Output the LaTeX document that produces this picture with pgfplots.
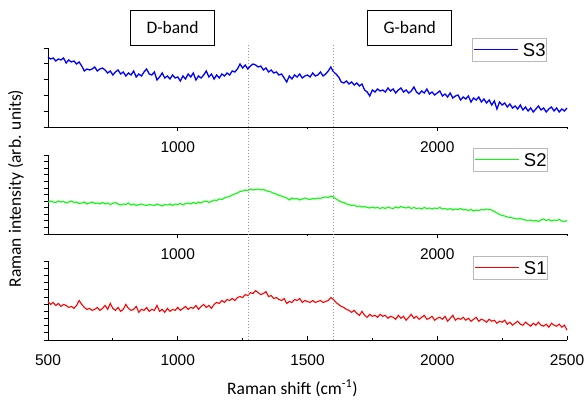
\documentclass[border=0pt]{standalone}
\usepackage{fontspec}
\setmainfont{Carlito}
\newfontfamily\arialf{Liberation Sans}
\usepackage{pgfplots}
\usepackage{pgfplotstable}
\pgfplotsset{compat=1.18}

% S3 (top), S2 (middle), S1 (bottom); intensities in arbitrary units
\pgfplotstableread{
x y
500 70
510 68
520 69
530 66
540 68
550 67
560 69
570 64
580 67
590 65
600 66
610 63
620 65
630 61
640 56
650 58
660 57
670 58
680 60
690 56
700 58
710 59
720 57
730 54
740 56
750 52
760 55
770 57
780 53
790 55
800 51
810 54
820 52
830 56
840 50
850 53
860 51
870 55
880 58
890 53
900 52
910 55
920 47
930 50
940 54
950 49
960 51
970 48
980 52
990 49
1000 50
1010 46
1020 51
1030 48
1040 53
1050 50
1060 54
1070 47
1080 51
1090 49
1100 52
1110 56
1120 50
1130 53
1140 48
1150 52
1160 49
1170 53
1180 51
1190 54
1200 52
1210 56
1220 55
1230 58
1240 63
1250 59
1260 62
1270 58
1280 61
1290 63
1300 62
1310 60
1320 61
1330 57
1340 59
1350 55
1360 57
1370 54
1380 55
1390 52
1400 53
1410 49
1420 45
1430 51
1440 48
1450 52
1460 50
1470 53
1480 49
1490 51
1500 52
1510 50
1520 54
1530 51
1540 52
1550 55
1560 51
1570 53
1580 56
1590 60
1600 55
1610 53
1620 50
1630 45
1640 44
1650 46
1660 43
1670 45
1680 42
1690 44
1700 41
1710 43
1720 37
1730 35
1740 31
1750 37
1760 35
1770 38
1780 36
1790 37
1800 35
1810 39
1820 36
1830 38
1840 34
1850 37
1860 39
1870 35
1880 37
1890 34
1900 36
1910 40
1920 35
1930 33
1940 36
1950 34
1960 38
1970 33
1980 35
1990 32
2000 34
2010 36
2020 31
2030 33
2040 30
2050 34
2060 29
2070 31
2080 32
2090 27
2100 30
2110 28
2120 31
2130 25
2140 29
2150 27
2160 30
2170 25
2180 28
2190 24
2200 27
2210 22
2220 26
2230 18
2240 25
2250 22
2260 24
2270 20
2280 23
2290 19
2300 21
2310 18
2320 22
2330 17
2340 20
2350 16
2360 19
2370 15
2380 18
2390 21
2400 17
2410 19
2420 15
2430 18
2440 20
2450 16
2460 19
2470 15
2480 18
2490 16
2500 19
}\sthree

\pgfplotstableread{
x y
500 32
510 33
520 32
530 31.5
540 33
550 32
560 32.5
570 31
580 32
590 33
600 31.5
610 32
620 30.5
630 31
640 32
650 30
660 31
670 32
680 30.5
690 31
700 30
710 31.5
720 30
730 31
740 29.5
750 30.5
760 31.5
770 30
780 29
790 30
800 29.5
810 31
820 29
830 30
840 28.5
850 29.5
860 30
870 29
880 28.5
890 29.5
900 29
910 28.5
920 30
930 29
940 28
950 29.5
960 29
970 30
980 28.5
990 30
1000 29.5
1010 30.5
1020 29
1030 30.5
1040 31
1050 30
1060 31.5
1070 30.5
1080 32
1090 31
1100 32.5
1110 33
1120 31.5
1130 32.5
1140 34
1150 33.5
1160 35
1170 34.5
1180 36
1190 37
1200 37.5
1210 39
1220 40
1230 41
1240 42.5
1250 43
1260 44
1270 43.5
1280 45
1290 44
1300 44.5
1310 45
1320 44
1330 44.5
1340 43.5
1350 42.5
1360 42
1370 40.5
1380 40
1390 38.5
1400 38
1410 37
1420 36
1430 34
1440 36
1450 35
1460 35.5
1470 34
1480 35
1490 36
1500 35
1510 34.5
1520 35.5
1530 35
1540 36
1550 35.5
1560 36.5
1570 37
1580 36.5
1590 38
1600 37
1610 35
1620 33.5
1630 32
1640 31.5
1650 30
1660 29.5
1670 28.5
1680 29
1690 27.5
1700 28
1710 27
1720 27.5
1730 26.5
1740 26
1750 27
1760 26
1770 26.5
1780 25.5
1790 26.5
1800 25.5
1810 27
1820 26
1830 25.5
1840 27
1850 26
1860 27.5
1870 26.5
1880 26
1890 27
1900 25.5
1910 26.5
1920 25.5
1930 26
1940 25
1950 26.5
1960 25.5
1970 26
1980 25
1990 26
2000 25.5
2010 26.5
2020 25
2030 25.5
2040 24.5
2050 25.5
2060 24
2070 25
2080 24.5
2090 25.5
2100 24
2110 24.5
2120 23.5
2130 24.5
2140 23
2150 24
2160 23.5
2170 24.5
2180 24
2190 25
2200 24.5
2210 24
2220 22.5
2230 21
2240 19.5
2250 18.5
2260 18
2270 17
2280 16.5
2290 16
2300 15.5
2310 15
2320 15.5
2330 14.5
2340 14
2350 13.5
2360 14
2370 13
2380 13.5
2390 12.5
2400 14
2410 15
2420 13.5
2430 14.5
2440 13
2450 14
2460 13.5
2470 14.5
2480 13
2490 12.5
2500 13.5
}\stwo

\pgfplotstableread{
x y
500 39
510 36
520 38
530 35
540 37
550 34
560 36
570 35
580 33
590 34
600 32
610 35
620 40
630 36
640 33
650 31
660 32
670 30
680 31
690 33
700 30
710 32
720 35
730 31
740 37
750 32
760 30
770 33
780 29
790 31
800 36
810 32
820 30
830 31
840 34
850 28
860 31
870 30
880 33
890 29
900 31
910 30
920 35
930 29
940 31
950 28
960 32
970 29
980 31
990 30
1000 33
1010 30
1020 32
1030 34
1040 31
1050 33
1060 32
1070 35
1080 31
1090 34
1100 36
1110 33
1120 35
1130 32
1140 36
1150 38
1160 37
1170 40
1180 38
1190 41
1200 40
1210 42
1220 40
1230 43
1240 44
1250 43
1260 46
1270 45
1280 48
1290 47
1300 50
1310 48
1320 46
1330 47
1340 49
1350 44
1360 45
1370 42
1380 43
1390 41
1400 40
1410 42
1420 37
1430 39
1440 38
1450 41
1460 40
1470 42
1480 38
1490 40
1500 39
1510 38
1520 40
1530 38
1540 39
1550 40
1560 38
1570 39
1580 40
1590 43
1600 41
1610 38
1620 36
1630 34
1640 33
1650 31
1660 30
1670 28
1680 30
1690 27
1700 25
1710 29
1720 25
1730 23
1740 26
1750 24
1760 25
1770 23
1780 26
1790 24
1800 25
1810 22
1820 24
1830 23
1840 21
1850 25
1860 22
1870 24
1880 20
1890 23
1900 26
1910 22
1920 24
1930 21
1940 23
1950 25
1960 21
1970 22
1980 24
1990 20
2000 22
2010 23
2020 21
2030 24
2040 19
2050 22
2060 25
2070 20
2080 22
2090 21
2100 23
2110 20
2120 22
2130 19
2140 21
2150 23
2160 19
2170 21
2180 20
2190 18
2200 21
2210 19
2220 20
2230 17
2240 19
2250 18
2260 20
2270 16
2280 18
2290 15
2300 17
2310 19
2320 16
2330 15
2340 18
2350 16
2360 14
2370 17
2380 15
2390 18
2400 15
2410 14
2420 16
2430 13
2440 17
2450 15
2460 14
2470 16
2480 13
2490 15
2500 10
}\sone

\pgfplotsset{
  panel/.style={
    scale only axis, width=519pt, height=79pt,
    xmin=500, xmax=2500, ymin=0, ymax=79,
    axis x line=bottom, axis y line=left,
    axis line style={-, line width=0.8pt},
    tick style={black, line width=0.8pt},
    major tick length=4pt, minor tick length=2.5pt,
    yticklabels={}, ytick align=outside,
    xticklabel style={font=\arialf\fontsize{15.5}{17}\selectfont, yshift=-7pt},
    /pgf/number format/assume math mode=true,
    /pgf/number format/1000 sep={},
    clip=false,
  },
}
% legend box: #1 top-right corner, #2 colour, #3 name
\newcommand\legbox[3]{%
  \draw[gray!55, line width=0.6pt] (#1) rectangle ++(-74pt,-23pt);
  \fill[#2] ([shift={(-73pt,-12.4pt)}]#1) rectangle ++(44pt,1.8pt);
  \node[anchor=base west, inner sep=0pt, font=\arialf\fontsize{18.5}{19}\selectfont]
    at ([shift={(-24pt,-18.2pt)}]#1) {#3};}

\begin{document}
\begin{tikzpicture}
\path[use as bounding box] (0pt,0pt) rectangle (587pt,402pt);

% top: S3
\begin{axis}[panel, at={(48pt,275pt)}, anchor=south west,
    xtick={1000,2000}, minor xtick={1500,2500}, xtick align=outside,
    ytick={0,16,32,48,64,79}]
  \addplot[blue, line width=1.3pt] table[x=x,y=y] {\sthree};
  \node[draw, line width=0.8pt, minimum width=84pt, minimum height=35pt,
        font=\fontsize{17.5}{20}\selectfont] at (rel axis cs:0.24,1.26) {D-band};
  \node[draw, line width=0.8pt, minimum width=84pt, minimum height=35pt,
        font=\fontsize{17.5}{20}\selectfont] at (rel axis cs:0.697,1.26) {G-band};
  \coordinate (L3) at (rel axis cs:0.961,1.127);
  \coordinate (Dt) at (axis cs:1272,82);
  \coordinate (Gt) at (axis cs:1598,82);
\end{axis}

% middle: S2
\begin{axis}[panel, at={(48pt,168pt)}, anchor=south west,
    xtick={1000,2000}, minor xtick={1500,2500}, xtick align=outside,
    ytick={0,6.5833,...,79.1},
    ylabel={Raman intensity (arb. units)},
    ylabel style={at={(rel axis cs:-0.062,0.576)}, anchor=center,
      font=\fontsize{17.5}{20}\selectfont}]
  \addplot[green, line width=1.1pt] table[x=x,y=y] {\stwo};
  \coordinate (L2) at (rel axis cs:0.963,1.089);
\end{axis}

% bottom: S1
\begin{axis}[panel, at={(48pt,62pt)}, anchor=south west, ymax=80,
    xtick={500,1000,...,2500}, minor xtick={750,1250,...,2250}, xtick align=inside,
    xticklabel style={yshift=-4pt},
    ytick={0,7.2727,...,80.1},
    xlabel={Raman shift (cm\textsuperscript{-1})},
    xlabel style={at={(rel axis cs:0.471,-0.61)}, anchor=center,
      font=\fontsize{17.5}{20}\selectfont}]
  \addplot[red, line width=1.1pt] table[x=x,y=y] {\sone};
  \coordinate (L1) at (rel axis cs:0.963,1.0625);
  \coordinate (Db) at (axis cs:1272,0);
  \coordinate (Gb) at (axis cs:1598,0);
\end{axis}

\legbox{L3}{blue}{S3}
\legbox{L2}{green}{S2}
\legbox{L1}{red}{S1}
\draw[gray!80, line width=0.6pt, dash pattern=on 1.5pt off 1.5pt] (Dt) -- (Db);
\draw[gray!80, line width=0.6pt, dash pattern=on 1.5pt off 1.5pt] (Gt) -- (Gb);
\end{tikzpicture}
\end{document}
